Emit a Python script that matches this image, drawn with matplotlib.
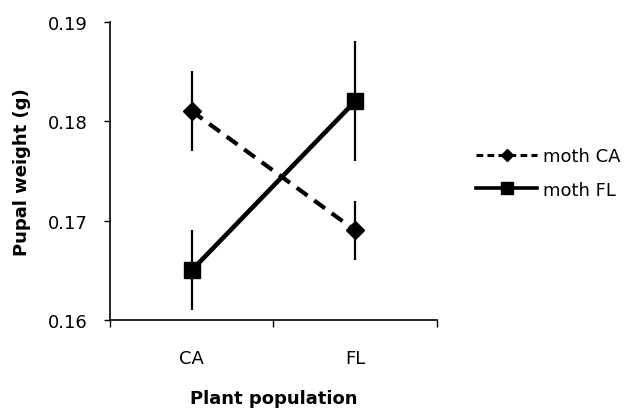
import matplotlib.pyplot as plt
from matplotlib.lines import Line2D

plt.rcParams['font.family'] = ['DejaVu Sans']

populations = ['CA', 'FL']
moth_ca = [0.181, 0.169]
moth_ca_err = [0.004, 0.003]
moth_fl = [0.165, 0.182]
moth_fl_err = [0.004, 0.006]
series_labels = ['moth CA', 'moth FL']
yticks = [0.16, 0.17, 0.18, 0.19]

xpos = [0.5, 1.5]

fig = plt.figure(figsize=(6.28, 4.10), dpi=100)
ax = fig.add_axes([0.175, 0.217, 0.521, 0.728])

ax.errorbar(xpos, moth_ca, yerr=moth_ca_err, color='black', lw=3, dashes=(3.2, 2),
            marker='D', markersize=9, elinewidth=1.6, capsize=0)
ax.errorbar(xpos, moth_fl, yerr=moth_fl_err, color='black', lw=3.3,
            marker='s', markersize=11, elinewidth=1.6, capsize=0)

ax.set_xlim(0, 2)
ax.set_ylim(0.16, 0.19)
ax.set_yticks(yticks)
ax.set_yticklabels([f'{v:.2f}' for v in yticks])
ax.set_xticks([0, 1, 2])
ax.set_xticklabels([])
ax.set_xticks(xpos, minor=True)
ax.set_xticklabels(populations, minor=True)
ax.tick_params(axis='x', which='minor', length=0, pad=21, labelsize=13)
ax.tick_params(axis='x', which='major', length=5, width=1)
ax.tick_params(axis='y', length=4, width=1, pad=12, labelsize=13)

for s in ['top', 'right']:
    ax.spines[s].set_visible(False)
for s in ['left', 'bottom']:
    ax.spines[s].set_linewidth(1.2)

ax.set_xlabel('Plant population', fontsize=13, fontweight='bold', labelpad=16)
ax.set_ylabel('Pupal weight (g)', fontsize=13, fontweight='bold', labelpad=12)

handles = [
    Line2D([], [], color='black', lw=2.2, dashes=(2.2, 1.4), marker='D', markersize=6),
    Line2D([], [], color='black', lw=2.6, marker='s', markersize=8),
]
fig.legend(handles, series_labels, loc='center left', bbox_to_anchor=(0.752, 0.576),
           frameon=False, fontsize=13, handlelength=3.4, handletextpad=0.3,
           labelspacing=0.85, borderaxespad=0, borderpad=0.2)

plt.savefig('out.png', dpi=100)
